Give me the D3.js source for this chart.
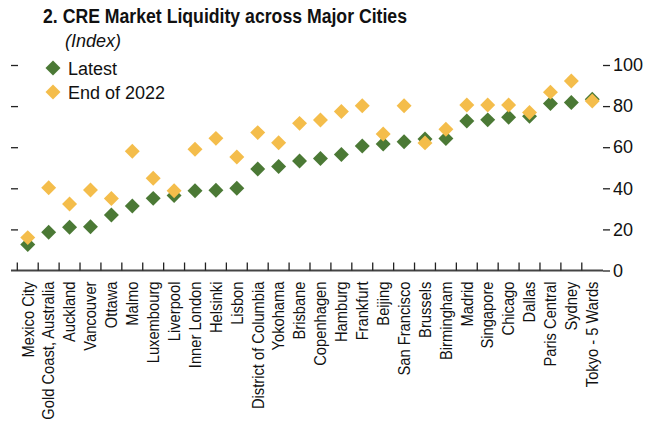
<!DOCTYPE html>
<html>
<head>
<meta charset="utf-8">
<script src="https://cdn.jsdelivr.net/npm/d3@7"></script>
<style>
body { margin: 0; background: #fff; }
text { font-family: "Liberation Sans Narrow", "Arial Narrow", "Liberation Sans", sans-serif; fill: #111; }
</style>
</head>
<body>
<script>
const cities = ["Mexico City", "Gold Coast, Australia", "Auckland", "Vancouver", "Ottawa", "Malmo",
  "Luxembourg", "Liverpool", "Inner London", "Helsinki", "Lisbon", "District of Columbia", "Yokohama",
  "Brisbane", "Copenhagen", "Hamburg", "Frankfurt", "Beijing", "San Francisco", "Brussels", "Birmingham",
  "Madrid", "Singapore", "Chicago", "Dallas", "Paris Central", "Sydney", "Tokyo - 5 Wards"];
const latest = [12.6, 18.6, 21, 21.3, 27, 31.4, 35.1, 36.5, 38.8, 39, 40, 49.4, 50.6, 53.3, 54.5,
  56.5, 60.6, 61.6, 62.7, 64, 64.2, 72.8, 73.3, 74.6, 75, 81.3, 81.7, 83.3];
const end2022 = [16, 40.3, 32.4, 39.2, 35, 58, 44.9, 38.8, 59, 64.3, 55.2, 67.1, 62.2, 71.6, 73.2,
  77.4, 80.2, 66.4, 80.2, 62.1, 68.7, 80.5, 80.5, 80.5, 76.9, 86.8, 92.2, 82.5];
const yTicks = [0, 20, 40, 60, 80, 100];

const w = 660, h = 428;
const green = "#4b7935", yellow = "#f4bd4b";

const svg = d3.select("body").append("svg")
  .attr("width", w)
  .attr("height", h);

const x = d3.scaleBand().domain(cities).range([17.3, 602.7]);
const y = d3.scaleLinear().domain([0, 100]).range([270.5, 65]);

// left ticks, no labels
svg.append("g")
  .attr("transform", "translate(18,0)")
  .call(d3.axisLeft(y).tickValues(yTicks.slice(1)).tickSize(7).tickFormat(""))
  .call(g => g.select(".domain").remove())
  .selectAll("line").attr("stroke", "#222").attr("stroke-width", 1.3);

// right axis with labels
svg.append("g")
  .attr("transform", "translate(603,0)")
  .call(d3.axisRight(y).tickValues(yTicks).tickSize(7).tickPadding(3))
  .call(g => g.select(".domain").remove())
  .call(g => g.selectAll("line").attr("stroke", "#222").attr("stroke-width", 1.3))
  .selectAll("text")
  .style("font-size", "18px")
  .attr("fill", "#111");

// bottom axis
const xa = svg.append("g")
  .attr("transform", "translate(0,270.5)")
  .call(d3.axisBottom(x).tickSize(0).tickFormat(d => d));
xa.select(".domain").remove();
xa.append("line")
  .attr("x1", 11).attr("x2", 603)
  .attr("stroke", "#444").attr("stroke-width", 2);
xa.selectAll(".sep")
  .data(cities)
  .enter()
  .append("line")
  .attr("x1", d => x(d)).attr("x2", d => x(d))
  .attr("y1", -8).attr("y2", 0)
  .attr("stroke", "#222").attr("stroke-width", 1.3);
xa.selectAll(".tick text")
  .attr("transform", "rotate(-90) scale(0.92,1)")
  .attr("text-anchor", "end")
  .attr("x", -12)
  .attr("y", 0)
  .attr("dy", "0.36em")
  .style("font-size", "16px")
  .attr("fill", "#111");

const sym = d3.symbol().type(d3.symbolSquare).size(112);

svg.selectAll(".latest")
  .data(latest)
  .enter()
  .append("path")
  .attr("d", sym)
  .attr("transform", (d, i) => `translate(${x(cities[i]) + x.bandwidth() / 2},${y(d)}) rotate(45)`)
  .attr("fill", green);

svg.selectAll(".end")
  .data(end2022)
  .enter()
  .append("path")
  .attr("d", sym)
  .attr("transform", (d, i) => `translate(${x(cities[i]) + x.bandwidth() / 2},${y(d)}) rotate(45)`)
  .attr("fill", yellow);

// title
svg.append("text")
  .attr("x", 43).attr("y", 23)
  .attr("textLength", 364)
  .attr("lengthAdjust", "spacingAndGlyphs")
  .style("font-size", "20px")
  .style("font-weight", "bold")
  .text("2. CRE Market Liquidity across Major Cities");
svg.append("text")
  .attr("x", 65).attr("y", 47)
  .style("font-size", "18px")
  .style("font-style", "italic")
  .text("(Index)");

// legend
const legend = [["Latest", green], ["End of 2022", yellow]];
const lg = svg.selectAll(".lg")
  .data(legend)
  .enter()
  .append("g")
  .attr("transform", (d, i) => `translate(53,${68 + i * 24})`);
lg.append("path")
  .attr("d", sym)
  .attr("transform", "rotate(45)")
  .attr("fill", d => d[1]);
lg.append("text")
  .attr("x", 15).attr("y", 7)
  .style("font-size", "18px")
  .text(d => d[0]);
</script>
</body>
</html>
